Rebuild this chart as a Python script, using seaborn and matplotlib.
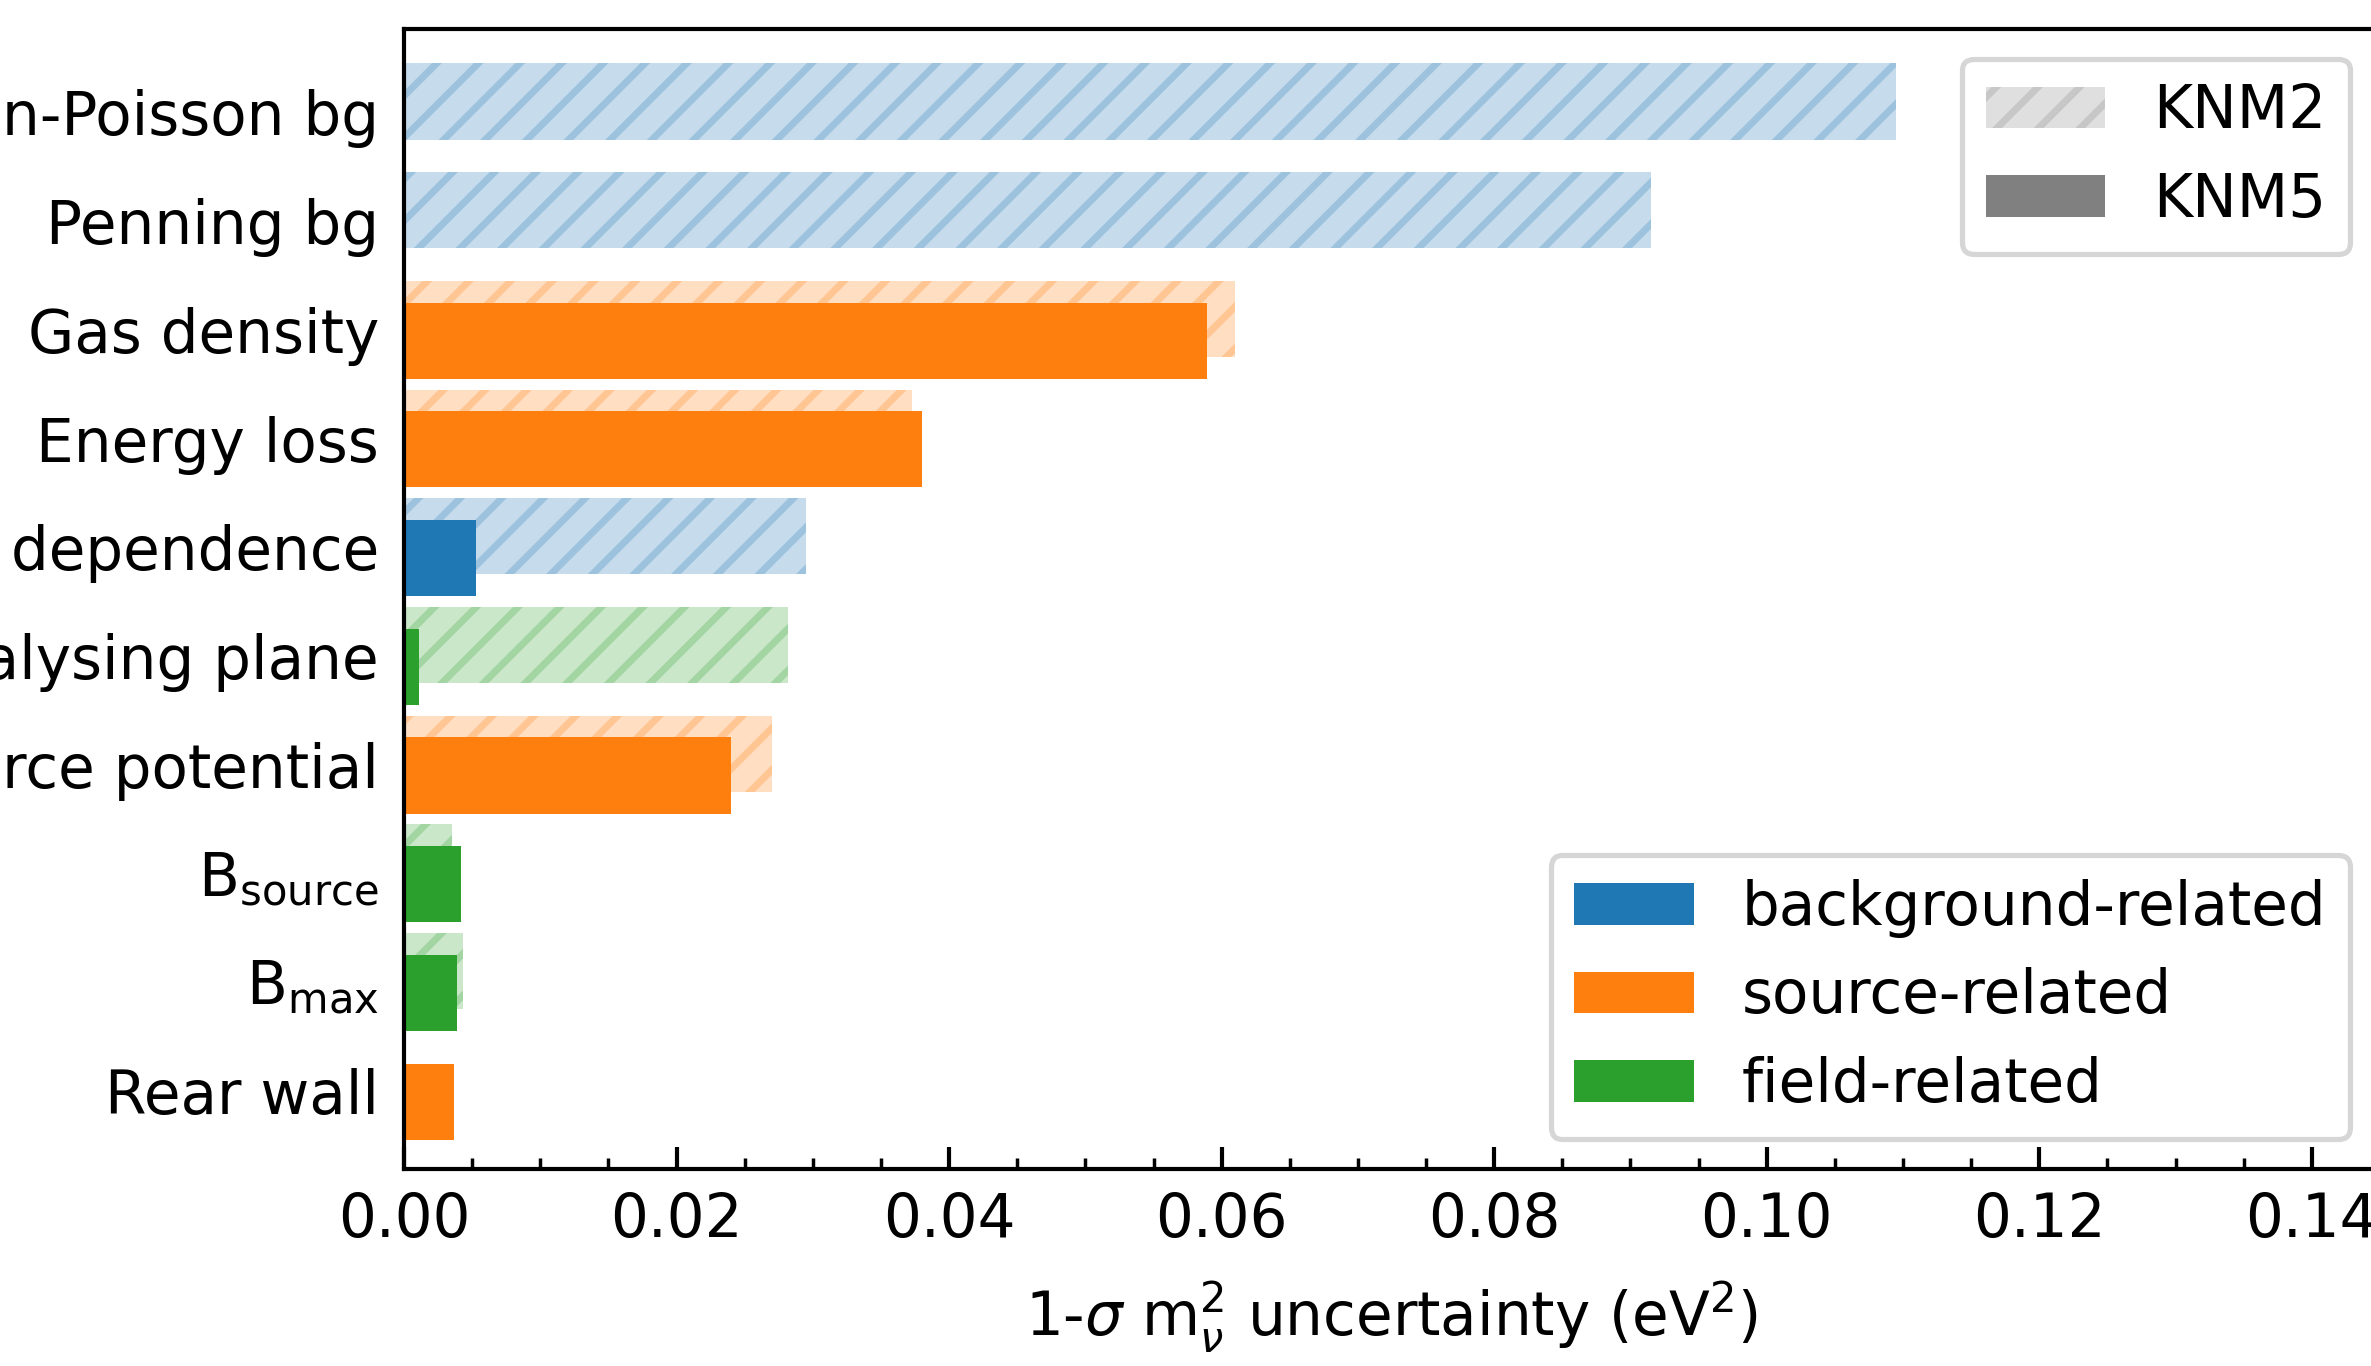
import numpy as np
import pandas as pd
import matplotlib
matplotlib.use("Agg")
import matplotlib.pyplot as plt
from matplotlib.patches import Patch
from matplotlib.ticker import MultipleLocator
import seaborn as sns

# --- data ---
labels = ["Non-Poisson bg", "Penning bg", "Gas density", "Energy loss",
          "Bg qU dependence", "Analysing plane", "Source potential",
          r"B$_\mathrm{source}$", r"B$_\mathrm{max}$", "Rear wall"]
groups = ["background", "background", "source", "source", "background",
          "field", "source", "field", "field", "source"]
knm2 = [0.1095, 0.0915, 0.0610, 0.0373, 0.0295, 0.0282, 0.0270, 0.0035, 0.0043, 0.0]
knm5 = [0.0, 0.0, 0.0589, 0.0380, 0.0053, 0.0011, 0.0240, 0.0042, 0.0039, 0.0037]

group_keys = ["background", "source", "field"]
group_names = ["background-related", "source-related", "field-related"]
group_colors = {"background": "tab:blue", "source": "tab:orange", "field": "tab:green"}

df = pd.DataFrame({"label": labels, "group": groups, "knm2": knm2, "knm5": knm5})

sns.set_style("ticks")
plt.rcParams.update({
    "font.family": ["DejaVu Sans"],
    "font.size": 17.2,
    "text.color": "black",
    "axes.labelcolor": "black",
    "axes.edgecolor": "black",
    "xtick.color": "black",
    "ytick.color": "black",
    "hatch.linewidth": 2.0,
})

fig = plt.figure(figsize=(9.484, 5.464), dpi=250)
ax = fig.add_axes([0.1704, 0.1442, 0.8334, 0.8348])

# KNM2: light hatched bars, shifted up a bit
n0 = len(ax.patches)
sns.barplot(data=df, x="knm2", y="label", hue="group", palette=group_colors,
            dodge=False, width=0.7, saturation=1, legend=False, ax=ax)
for p in ax.patches[n0:]:
    c = p.get_facecolor()[:3]
    p.set_alpha(0.25)
    p.set_facecolor(c)
    p.set_edgecolor(c)
    p.set_linewidth(0)
    p.set_hatch("//")
    p.set_y(p.get_y() - 0.1)

# KNM5: solid bars, shifted down a bit, drawn on top
n1 = len(ax.patches)
sns.barplot(data=df, x="knm5", y="label", hue="group", palette=group_colors,
            dodge=False, width=0.7, saturation=1, legend=False, ax=ax)
for p in ax.patches[n1:]:
    p.set_linewidth(0)
    p.set_y(p.get_y() + 0.1)

ax.set_xlim(0, 0.145)
ax.set_ylim(9.72, -0.77)
ax.xaxis.set_major_locator(MultipleLocator(0.02))
ax.xaxis.set_minor_locator(MultipleLocator(0.005))
ax.tick_params(axis="x", which="major", direction="in", length=6.4, width=1.2, pad=6.4)
ax.tick_params(axis="x", which="minor", direction="in", length=3.2, width=1.0)
ax.tick_params(axis="y", length=0, pad=7.2)
for s in ax.spines.values():
    s.set_visible(True)
    s.set_linewidth(1.2)

ax.set_ylabel("")
ax.set_xlabel(r"1-$\sigma$ m$_{\nu}^{2}$ uncertainty (eV$^2$)", labelpad=8.4)

# legends
h_data = [Patch(facecolor="gray", edgecolor="gray", alpha=0.25, hatch="//", linewidth=0),
          Patch(facecolor="gray", linewidth=0)]
leg1 = ax.legend(h_data, ["KNM2", "KNM5"], loc="upper right")
leg1.get_frame().set_linewidth(1.5)
ax.add_artist(leg1)
h_grp = [Patch(facecolor=group_colors[k], linewidth=0) for k in group_keys]
leg2 = ax.legend(h_grp, group_names, loc="lower right")
leg2.get_frame().set_linewidth(1.5)

fig.savefig("out.png", dpi=250)
